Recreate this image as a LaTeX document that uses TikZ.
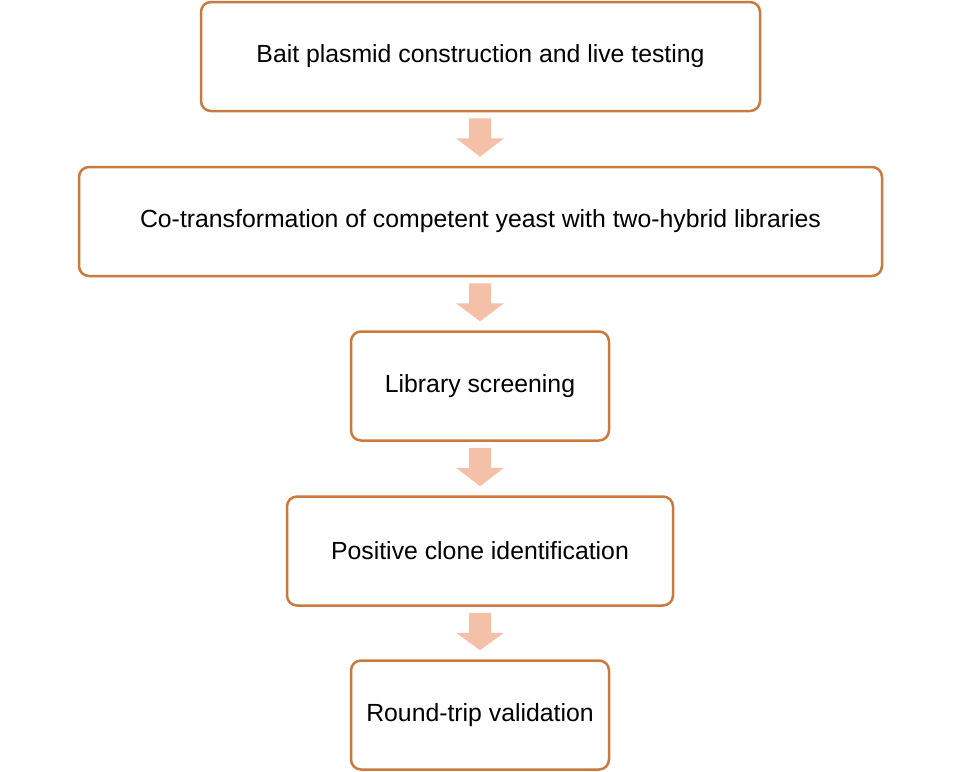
\documentclass[tikz,border=0pt]{standalone}
\usepackage{fontspec}
\setmainfont{Liberation Sans}
\usetikzlibrary{calc}
\definecolor{boxline}{HTML}{C97B3F}
\definecolor{arrfill}{HTML}{F4C0A8}
\begin{document}
\begin{tikzpicture}[x=0.5pt,y=-0.5pt,
  stepbox/.style={draw=boxline,line width=1.25pt,rounded corners=5pt,fill=white,
    minimum height=54.5pt,align=center,font=\fontsize{12.4}{14}\selectfont,inner sep=0pt},
  flowarrow/.style={fill=arrfill}]
\useasboundingbox (0,0) rectangle (960,772);
\node[stepbox,minimum width=279.5pt] (b1) at (480.5,56.5) {Bait plasmid construction and live testing};
\node[stepbox,minimum width=401.5pt] (b2) at (480.5,221.5) {Co-transformation of competent yeast with two-hybrid libraries};
\node[stepbox,minimum width=129pt] (b3) at (480,386) {Library screening};
\node[stepbox,minimum width=193pt] (b4) at (480,551) {Positive clone identification};
\node[stepbox,minimum width=129pt] (b5) at (480,715) {Round-trip validation};
\foreach \a/\b in {b1/b2,b2/b3,b3/b4,b4/b5}{
  \path let \p1=(\a.south), \p2=(\b.north) in
    coordinate (s) at (480,\y1) coordinate (e) at (480,\y2);
  \fill[flowarrow] ($(s)+(-11,6)$) -- ($(s)+(11,6)$) -- ($(s)+(11,26)$) -- ($(s)+(24,26)$)
    -- ($(e)+(0,-9)$) -- ($(s)+(-24,26)$) -- ($(s)+(-11,26)$) -- cycle;
}
\end{tikzpicture}
\end{document}
